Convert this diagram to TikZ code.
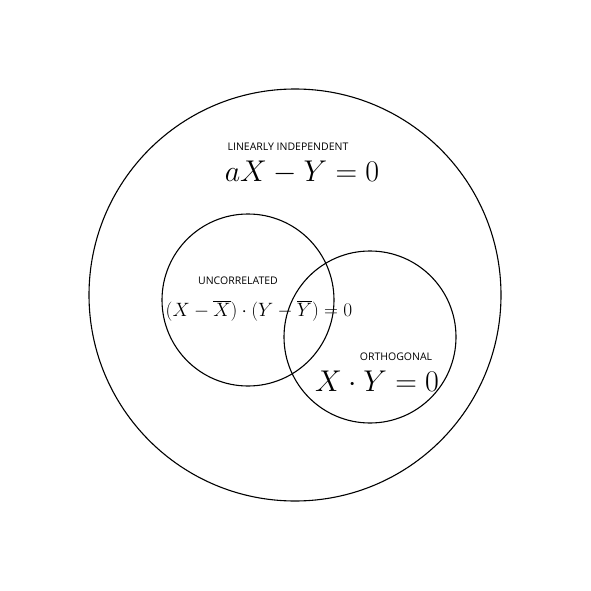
\RequirePackage{fix-cm}
\documentclass[tikz,border=0pt]{standalone}
\usepackage{fontspec}
\newfontfamily\lab{Open Sans}
\begin{document}
\begin{tikzpicture}[x=1pt,y=-1pt,
  circ/.style={draw=black,line width=1.1pt},
  lbl/.style={font=\lab\fontsize{10.5}{12}\selectfont,inner sep=0pt,anchor=base},
  eq/.style={inner sep=0pt,anchor=base}]
\useasboundingbox (0,0) rectangle (591,591);
\draw[circ] (295,295) circle (206);
\draw[circ] (248,300) circle (86);
\draw[circ] (370,337) circle (86);
\node[lbl] (li) at (288,150.5) {LINEARLY INDEPENDENT};
\node[eq] (e1) at (302,181) {\fontsize{30}{36}\selectfont$aX - Y = 0$};
\node[lbl] (un) at (238,284.3) {UNCORRELATED};
\node[eq] (e2) at (259,316) {\fontsize{19.3}{24}\selectfont$(X-\overline{X})\cdot(Y-\overline{Y})=0$};
\node[lbl] (or) at (396,360.7) {ORTHOGONAL};
\node[eq] (e3) at (377,391) {\fontsize{30}{36}\selectfont$X\cdot Y = 0$};
\end{tikzpicture}
\end{document}
